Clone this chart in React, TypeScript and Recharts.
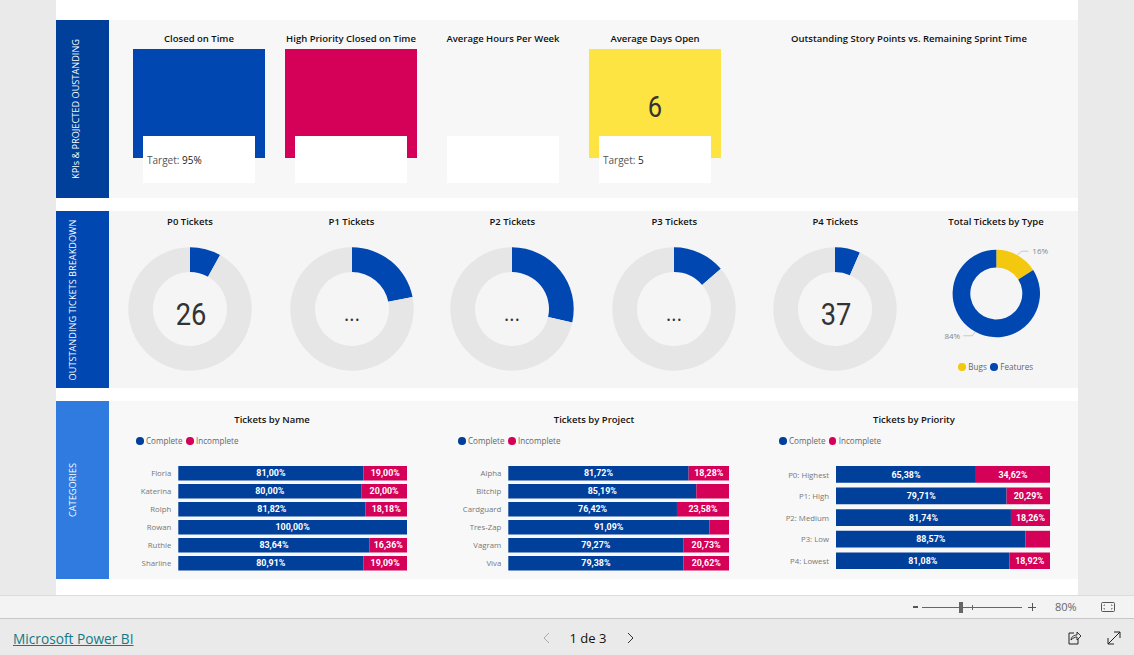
import { Bar, BarChart, Cell, LabelList, Legend, Pie, PieChart, XAxis, YAxis } from "recharts";

const BLUE = "#0047b2";
const NAVY = "#003f9a";
const PINK = "#d50057";
const GOLD = "#f3c80f";
const TRACK = "#e6e6e6";
const SANS = "'Open Sans', 'Noto Sans', sans-serif";
const DIN = "Roboto, sans-serif";
const NO_MARGIN = { top: 0, right: 0, bottom: 0, left: 0 };

const gaugeNames = ["P0 Tickets", "P1 Tickets", "P2 Tickets", "P3 Tickets", "P4 Tickets"];
const gaugeShare = [8.1, 21.9, 28.5, 13.7, 6.6];
const gaugeText = ["26", "...", "...", "...", "37"];
const gaugeCenters = [190, 351.5, 512.3, 674.3, 835.3];

const typeNames = ["Bugs", "Features"];
const typeShare = [16, 84];
const typeColors = [GOLD, BLUE];

const people = ["Floria", "Katerina", "Rolph", "Rowan", "Ruthie", "Sharline"];
const peopleComplete = [81, 80, 81.82, 100, 83.64, 80.91];
const peopleIncomplete = [19, 20, 18.18, 0, 16.36, 19.09];

const projects = ["Alpha", "Bitchip", "Cardguard", "Tres-Zap", "Vagram", "Viva"];
const projectComplete = [81.72, 85.19, 76.42, 91.09, 79.27, 79.38];
const projectIncomplete = [18.28, 14.81, 23.58, 8.91, 20.73, 20.62];

const priorities = ["P0: Highest", "P1: High", "P2: Medium", "P3: Low", "P4: Lowest"];
const priorityComplete = [65.38, 79.71, 81.74, 88.57, 81.08];
const priorityIncomplete = [34.62, 20.29, 18.26, 11.43, 18.92];

const kpiTitles = ["Closed on Time", "High Priority Closed on Time", "Average Hours Per Week", "Average Days Open"];
const kpiColors = [BLUE, PINK, "transparent", "#fde442"];
const kpiTargets = ["95%", "", "", "5"];
const kpiValues = ["", "", "", "6"];
const kpiLefts = [133, 285, 437, 589];

function Box({ x, y, w, h, bg }: { x: number; y: number; w: number; h: number; bg: string }) {
  return <div style={{ position: "absolute", left: x, top: y, width: w, height: h, background: bg }} />;
}

function Title({ cx, y, children }: { cx: number; y: number; children: string }) {
  return (
    <div style={{ position: "absolute", left: cx - 150, width: 300, top: y - 8, height: 16, lineHeight: "16px", textAlign: "center", fontFamily: SANS, fontSize: 9.5, fontWeight: 600, color: "#111", whiteSpace: "nowrap" }}>
      {children}
    </div>
  );
}

function Band({ y, h, bg, textX, children }: { y: number; h: number; bg: string; textX: number; children: string }) {
  return (
    <div style={{ position: "absolute", left: 56, top: y, width: 53, height: h, background: bg }}>
      <div style={{ position: "absolute", left: textX - 100, top: h / 2 - 8, width: 200, height: 16, lineHeight: "16px", textAlign: "center", transform: "rotate(-90deg)", color: "#fff", fontFamily: SANS, fontSize: 9.2, whiteSpace: "nowrap" }}>
        {children}
      </div>
    </div>
  );
}

function BigNumber({ cx, y, size, children }: { cx: number; y: number; size: number; children: string }) {
  return (
    <div style={{ position: "absolute", left: cx - 40, width: 80, top: y - 25, height: 50, lineHeight: "50px", textAlign: "center", fontFamily: DIN, fontSize: size, color: "#333", transform: "scaleX(0.88)" }}>
      {children}
    </div>
  );
}

function Gauge({ share, cx }: { share: number; cx: number }) {
  const slices = [{ v: share }, { v: 100 - share }];
  return (
    <div style={{ position: "absolute", left: cx - 70, top: 238.5 }}>
      <PieChart width={140} height={140} margin={NO_MARGIN}>
        <Pie data={slices} dataKey="v" cx={70} cy={70} innerRadius={37} outerRadius={61.7} startAngle={90} endAngle={-270} stroke="none" isAnimationActive={false}>
          <Cell fill={BLUE} />
          <Cell fill={TRACK} />
        </Pie>
      </PieChart>
    </div>
  );
}

function typeLabel(props: any) {
  const { cx, cy, midAngle, outerRadius, value } = props;
  const rad = (midAngle * Math.PI) / 180;
  const px = cx + outerRadius * Math.cos(rad);
  const py = cy - outerRadius * Math.sin(rad);
  const right = px > cx;
  const ex = px + (right ? 4 : -3);
  const ey = py + (right ? -4 : 4);
  const fx = ex + (right ? 7 : -9);
  return (
    <g>
      <polyline points={`${px},${py} ${ex},${ey} ${fx},${ey}`} fill="none" stroke="#bbb" strokeWidth={0.8} />
      <text x={fx + (right ? 4 : -3)} y={ey + 3} textAnchor={right ? "start" : "end"} fontFamily={SANS} fontSize={8} fill="#888">
        {value}%
      </text>
    </g>
  );
}

function TypeDonut() {
  const slices = typeNames.map((name, i) => ({ name, v: typeShare[i] }));
  return (
    <div style={{ position: "absolute", left: 926, top: 224 }}>
      <PieChart width={140} height={155} margin={NO_MARGIN}>
        <Pie data={slices} dataKey="v" cx={70.3} cy={69.5} innerRadius={26} outerRadius={43.7} startAngle={90} endAngle={-270} stroke="none" isAnimationActive={false} label={typeLabel} labelLine={false}>
          {typeColors.map((c) => (
            <Cell key={c} fill={c} />
          ))}
        </Pie>
      </PieChart>
    </div>
  );
}

function Key({ items }: { items: { x: number; label: string; color: string }[] }) {
  return (
    <>
      {items.map((it) => (
        <span key={it.label} style={{ position: "absolute", left: it.x, top: 0, fontFamily: SANS, fontSize: 8.1, lineHeight: "10px", color: "#666", whiteSpace: "nowrap" }}>
          <span style={{ position: "absolute", left: -4, top: 1.2, width: 7.6, height: 7.6, borderRadius: "50%", background: it.color }} />
          <span style={{ position: "absolute", left: 6 }}>{it.label}</span>
        </span>
      ))}
    </>
  );
}

const pct = (v: number) => (v >= 16 ? v.toFixed(2).replace(".", ",") + "%" : "");

function Stacked({ names, complete, incomplete, left, plotLeft, plotRight, barSize, legendX }: {
  names: string[];
  complete: number[];
  incomplete: number[];
  left: number;
  plotLeft: number;
  plotRight: number;
  barSize: number;
  legendX: number[];
}) {
  const rows = names.map((name, i) => ({ name, Complete: complete[i], Incomplete: incomplete[i] }));
  const labelStyle = { fill: "#fff", fontFamily: DIN, fontSize: 8.9, fontWeight: 700 };
  return (
    <div style={{ position: "absolute", left, top: 430 }}>
      <BarChart width={plotRight - left + 2} height={146} data={rows} layout="vertical" margin={{ top: 0, right: 2, bottom: 4, left: 0 }} barCategoryGap={0} barGap={0}>
        <Legend
          verticalAlign="top"
          height={34}
          content={() => (
            <Key
              items={[
                { x: legendX[0] - left, label: "Complete", color: NAVY },
                { x: legendX[1] - left, label: "Incomplete", color: PINK },
              ]}
            />
          )}
          wrapperStyle={{ top: 6, left: 0 }}
        />
        <XAxis type="number" domain={[0, 100]} hide />
        <YAxis type="category" dataKey="name" width={plotLeft - left} axisLine={false} tickLine={false} tickMargin={1} tick={{ fontFamily: SANS, fontSize: 7.8, fill: "#777" }} interval={0} />
        <Bar dataKey="Complete" stackId="a" fill={NAVY} barSize={barSize} isAnimationActive={false}>
          <LabelList dataKey="Complete" position="center" formatter={pct} style={labelStyle} />
        </Bar>
        <Bar dataKey="Incomplete" stackId="a" fill={PINK} barSize={barSize} isAnimationActive={false}>
          <LabelList dataKey="Incomplete" position="center" formatter={pct} style={labelStyle} />
        </Bar>
      </BarChart>
    </div>
  );
}

function Footer() {
  return (
    <>
      <Box x={0} y={596} w={1134} h={22} bg="#f3f3f3" />
      <Box x={0} y={595} w={1134} h={1} bg="#dcdcdc" />
      <Box x={0} y={618} w={1134} h={1} bg="#c8c8c8" />
      <Box x={0} y={619} w={1134} h={36} bg="#eaeaea" />
      <Box x={913} y={606} w={5} h={2} bg="#555" />
      <Box x={922} y={607} w={100} h={1.4} bg="#666" />
      <Box x={959} y={602} w={4} h={11} bg="#666" />
      <Box x={972} y={605} w={1} h={5} bg="#666" />
      <Box x={1028} y={606.5} w={8} h={1.4} bg="#555" />
      <Box x={1031.5} y={603} w={1.4} h={8} bg="#555" />
      <div style={{ position: "absolute", left: 1055, top: 599, fontFamily: SANS, fontSize: 11, lineHeight: "16px", color: "#666" }}>80%</div>
      <svg style={{ position: "absolute", left: 1100, top: 601 }} width={16} height={12}>
        <rect x={1.5} y={1.5} width={13} height={9} rx={1} fill="none" stroke="#555" />
        <path d="M4 5V4h1M11 4h1v1M12 7v1h-1M5 8H4V7" fill="none" stroke="#555" strokeWidth={0.8} />
      </svg>
      <a style={{ position: "absolute", left: 13, top: 630, fontFamily: SANS, fontSize: 13.7, lineHeight: "18px", color: "#117a85", textDecoration: "underline", whiteSpace: "nowrap" }}>Microsoft Power BI</a>
      <div style={{ position: "absolute", left: 560, width: 56, top: 629, textAlign: "center", fontFamily: SANS, fontSize: 13, lineHeight: "18px", color: "#111" }}>1 de 3</div>
      <svg style={{ position: "absolute", left: 540, top: 631 }} width={100} height={14}>
        <path d="M9 2L4 7l5 5" fill="none" stroke="#aaa" />
        <path d="M88 2l5 5-5 5" fill="none" stroke="#333" />
      </svg>
      <svg style={{ position: "absolute", left: 1066, top: 630 }} width={60} height={16}>
        <path d="M8 3H3v11h9V9" fill="none" stroke="#222" />
        <path d="M5 10c0-3 3-5 6-5V2l4 4-4 4V7c-2 0-4 1-6 3z" fill="#eaeaea" stroke="#222" strokeWidth={0.9} />
        <path d="M42 14L54 2M48 2h6v6M42 8v6h6" fill="none" stroke="#222" />
      </svg>
    </>
  );
}

export default function App() {
  return (
    <div style={{ position: "absolute", left: 0, top: 0, width: 1134, height: 655, overflow: "hidden", background: "#eaeaea" }}>
      <Box x={56} y={0} w={1022} h={596} bg="#fff" />
      <Box x={109} y={20} w={969} h={178} bg="#f7f7f7" />
      <Box x={109} y={211} w={969} h={177} bg="#f5f5f5" />
      <Box x={109} y={401} w={969} h={178} bg="#f8f8f8" />
      <Band y={20} h={178} bg={NAVY} textX={20}>KPIs &amp; PROJECTED OUSTANDING</Band>
      <Band y={211} h={177} bg={BLUE} textX={17}>OUTSTANDING TICKETS BREAKDOWN</Band>
      <Band y={401} h={178} bg="#2f7be0" textX={17}>CATEGORIES</Band>

      {kpiTitles.map((t, i) => (
        <div key={t}>
          <Title cx={kpiLefts[i] + 66} y={38.5}>{t}</Title>
          <Box x={kpiLefts[i]} y={49} w={132} h={109} bg={kpiColors[i]} />
          {kpiValues[i] && <BigNumber cx={kpiLefts[i] + 66} y={107} size={29}>{kpiValues[i]}</BigNumber>}
          <Box x={kpiLefts[i] + 10} y={136} w={112} h={47} bg="#fff" />
          {kpiTargets[i] && (
            <div style={{ position: "absolute", left: kpiLefts[i] + 14, top: 152, fontFamily: SANS, fontSize: 10, lineHeight: "16px", color: "#555", whiteSpace: "nowrap" }}>
              Target: <span style={{ color: "#222" }}>{kpiTargets[i]}</span>
            </div>
          )}
        </div>
      ))}
      <Title cx={909} y={38.5}>Outstanding Story Points vs. Remaining Sprint Time</Title>

      {gaugeNames.map((t, i) => (
        <div key={t}>
          <Title cx={gaugeCenters[i]} y={221.5}>{t}</Title>
          <Gauge share={gaugeShare[i]} cx={gaugeCenters[i]} />
          {gaugeText[i] === "..." ? (
            <BigNumber cx={gaugeCenters[i]} y={314} size={23}>{gaugeText[i]}</BigNumber>
          ) : (
            <BigNumber cx={gaugeCenters[i] + 1} y={315} size={31}>{gaugeText[i]}</BigNumber>
          )}
        </div>
      ))}
      <Title cx={996} y={221.5}>Total Tickets by Type</Title>
      <TypeDonut />
      <div style={{ position: "absolute", left: 0, top: 362 }}>
        <Key
          items={[
            { x: 962.3, label: typeNames[0], color: typeColors[0] },
            { x: 994.3, label: typeNames[1], color: typeColors[1] },
          ]}
        />
      </div>

      <Title cx={272} y={420}>Tickets by Name</Title>
      <Title cx={594} y={420}>Tickets by Project</Title>
      <Title cx={914} y={420}>Tickets by Priority</Title>
      <Stacked names={people} complete={peopleComplete} incomplete={peopleIncomplete} left={110} plotLeft={178.3} plotRight={407} barSize={14.5} legendX={[140, 190]} />
      <Stacked names={projects} complete={projectComplete} incomplete={projectIncomplete} left={440} plotLeft={508.3} plotRight={729} barSize={14.5} legendX={[462, 512]} />
      <Stacked names={priorities} complete={priorityComplete} incomplete={priorityIncomplete} left={740} plotLeft={836} plotRight={1050} barSize={16.7} legendX={[783, 832.7]} />

      <Footer />
    </div>
  );
}
